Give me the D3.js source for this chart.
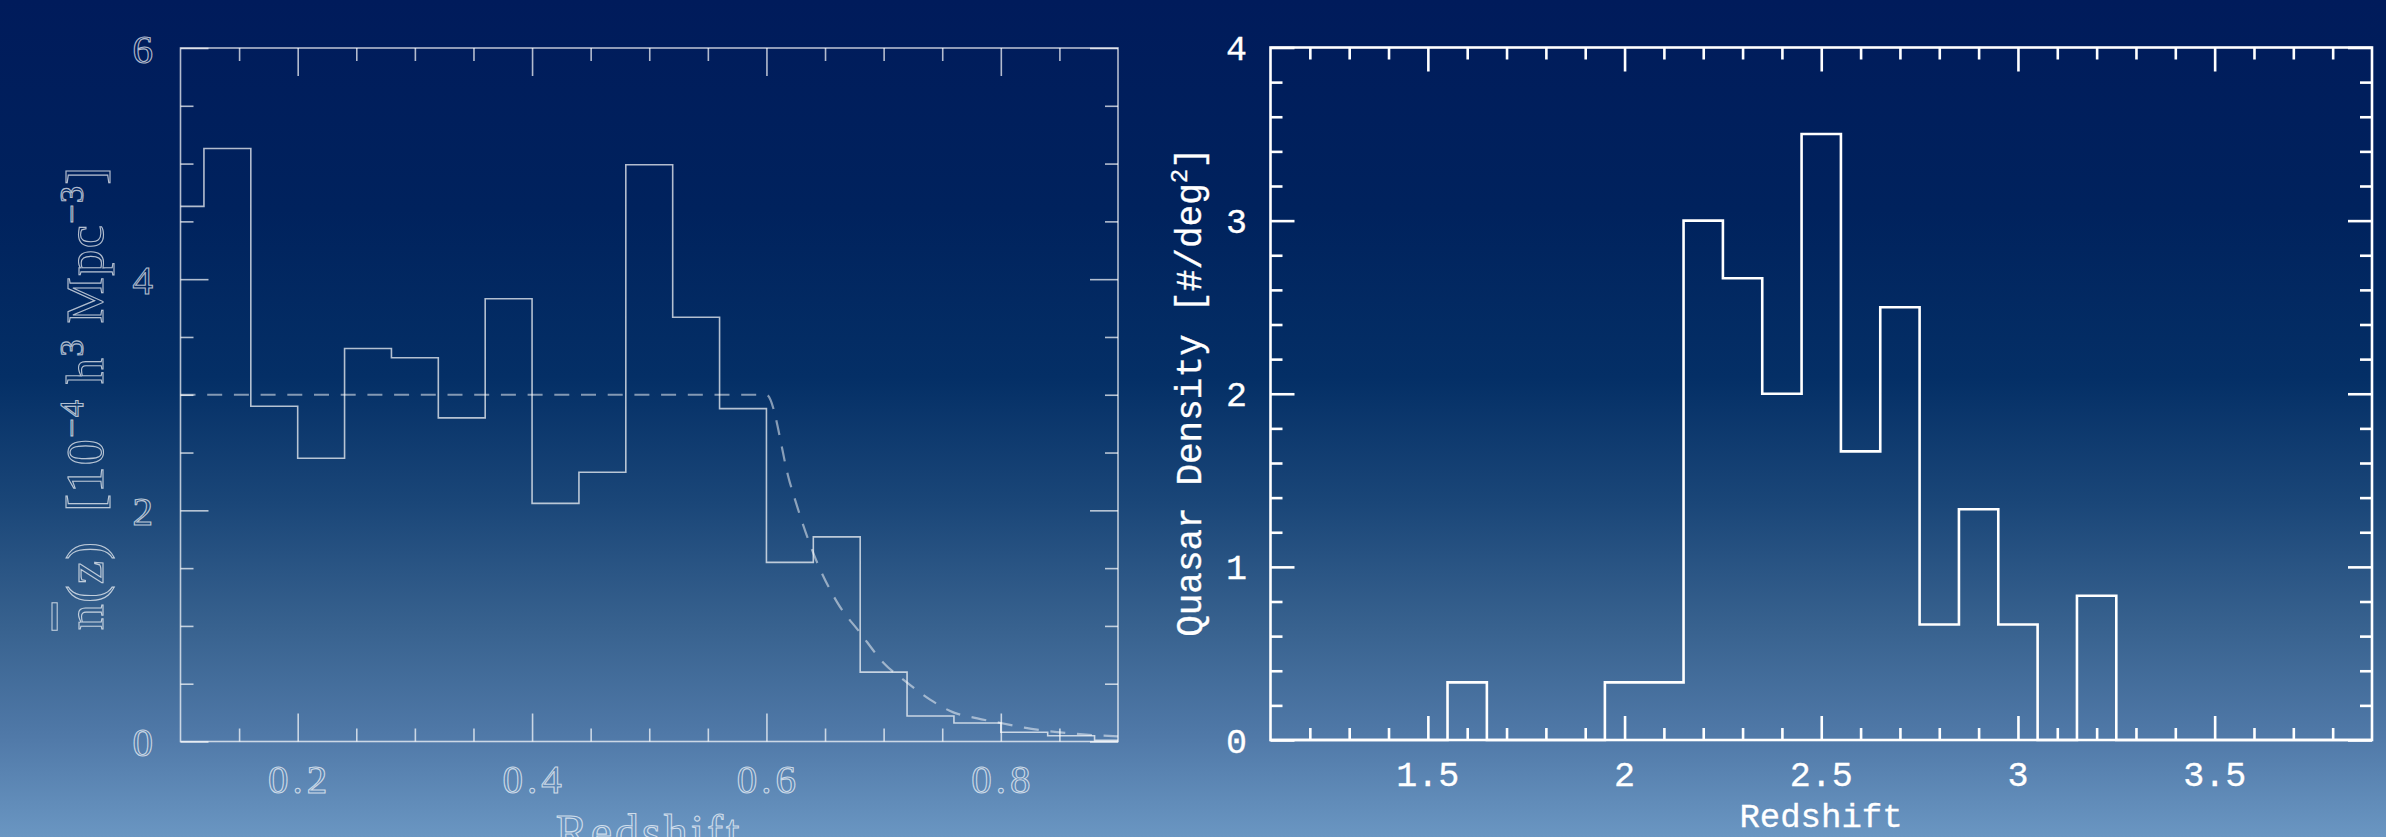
<!DOCTYPE html>
<html><head><meta charset="utf-8">
<script src="https://cdn.jsdelivr.net/npm/d3@7"></script>
<style>html,body{margin:0;padding:0;overflow:hidden;background:#0a2a60}</style>
</head><body><svg id="c" width="2386" height="837"></svg>
<script>
// ---------- data ----------
// Left panel: mean galaxy density n(z) histogram
const lzEdges   = [0.10,0.12,0.16,0.20,0.24,0.28,0.32,0.36,0.40,0.44,0.48,0.52,0.56,0.60,0.64,0.68,0.72,0.76,0.80,0.84,0.88,0.90];
const lzDensity = [4.63,5.13,2.90,2.45,3.40,3.32,2.80,3.83,2.06,2.33,4.99,3.67,2.88,1.55,1.77,0.60,0.22,0.16,0.08,0.05,0.01];
// Left panel: dashed model curve
const lzModelZ  = [0.10,0.60,0.62,0.64,0.66,0.68,0.70,0.72,0.74,0.76,0.78,0.80,0.82,0.84,0.86,0.88,0.90];
const lzModelN  = [3.00,3.00,2.24,1.63,1.21,0.94,0.68,0.51,0.36,0.25,0.20,0.16,0.12,0.09,0.07,0.055,0.045];
const lXTickVals = [0.2,0.4,0.6,0.8];
const lXTickLabels = ["0.2","0.4","0.6","0.8"];
const lYTickVals = [0,2,4,6];
const lYTickLabels = ["0","2","4","6"];

// Right panel: quasar density histogram (step outline points)
const qzX = [1.10,1.55,1.65,1.75,1.85,1.95,2.05,2.15,2.25,2.35,2.45,2.55,2.65,2.75,2.85,2.95,3.05,3.15,3.25,3.90];
const qzD = [0,0.333,0,0,0,0.333,0.333,3.0,2.667,2.0,3.5,1.667,2.5,0.667,1.333,0.667,0,0.833,0,0];
const rXTickVals = [1.5,2,2.5,3,3.5];
const rXTickLabels = ["1.5","2","2.5","3","3.5"];
const rYTickVals = [0,1,2,3,4];
const rYTickLabels = ["0","1","2","3","4"];

// ---------- drawing ----------
const svg = d3.select("#c");
const W = 2386, H = 837;
const defs = svg.append("defs");
const grad = defs.append("linearGradient").attr("id","bg").attr("x1",0).attr("y1",0).attr("x2",0).attr("y2",1);
[[0,"#001b5b"],[0.25,"#00225d"],[0.45,"#042f66"],[0.6,"#1a4678"],[0.75,"#38628f"],[0.88,"#5079a8"],[1,"#6a96c2"]]
  .forEach(([o,c])=>grad.append("stop").attr("offset",o).attr("stop-color",c));
svg.append("rect").attr("width",W).attr("height",H).attr("fill","url(#bg)");

function ticksOnFrame(g, x, y, xMinor, xMajor, yMinor, yMajor, sMinor, sMajor, stroke, sw, op){
  const t = [
    [d3.axisBottom(x), xMinor, sMinor, y.range()[0]],
    [d3.axisBottom(x), xMajor, sMajor, y.range()[0]],
    [d3.axisTop(x),    xMinor, sMinor, y.range()[1]],
    [d3.axisTop(x),    xMajor, sMajor, y.range()[1]]
  ];
  t.forEach(([ax, vals, s, ty])=>{
    const gg = g.append("g").attr("transform",`translate(0,${ty})`)
      .call(ax.tickValues(vals).tickSize(-s).tickFormat(""));
    gg.select(".domain").remove();
    gg.selectAll("line").attr("stroke",stroke).attr("stroke-width",sw).attr("opacity",op);
  });
  const t2 = [
    [d3.axisLeft(y),  yMinor, sMinor, x.range()[0]],
    [d3.axisLeft(y),  yMajor, sMajor, x.range()[0]],
    [d3.axisRight(y), yMinor, sMinor, x.range()[1]],
    [d3.axisRight(y), yMajor, sMajor, x.range()[1]]
  ];
  t2.forEach(([ax, vals, s, tx])=>{
    const gg = g.append("g").attr("transform",`translate(${tx},0)`)
      .call(ax.tickValues(vals).tickSize(-s).tickFormat(""));
    gg.select(".domain").remove();
    gg.selectAll("line").attr("stroke",stroke).attr("stroke-width",sw).attr("opacity",op);
  });
  g.append("rect").attr("x",x.range()[0]).attr("y",y.range()[1])
    .attr("width",x.range()[1]-x.range()[0]).attr("height",y.range()[0]-y.range()[1])
    .attr("fill","none").attr("stroke",stroke).attr("stroke-width",sw).attr("opacity",op);
}

// ----- Left panel -----
{
  const g = svg.append("g");
  const x = d3.scaleLinear().domain([0.1,0.9]).range([180.5,1118]);
  const y = d3.scaleLinear().domain([0,6]).range([741.5,48]);
  const lineCol = "#ffffff";
  // model (dashed)
  const mline = d3.line().x((d,i)=>x(lzModelZ[i])).y((d,i)=>y(lzModelN[i])).curve(d3.curveMonotoneX);
  g.append("path").attr("d", mline(lzModelZ)).attr("fill","none")
    .attr("stroke",lineCol).attr("stroke-width",2.2).attr("opacity",0.5).attr("stroke-dasharray","15,11.7");
  // histogram
  const pts = lzEdges.map((e,i)=>[e, i<lzDensity.length ? lzDensity[i] : lzDensity[lzDensity.length-1]]);
  const hline = d3.line().x(d=>x(d[0])).y(d=>y(d[1])).curve(d3.curveStepAfter);
  g.append("path").attr("d", hline(pts)).attr("fill","none")
    .attr("stroke",lineCol).attr("stroke-width",1.6).attr("opacity",0.7);
  // axes
  const xMinor = d3.range(0.15,0.9,0.05).filter(v=>!lXTickVals.some(m=>Math.abs(m-v)<1e-6));
  const yMinor = d3.range(0.5,6,0.5).filter(v=>!lYTickVals.some(m=>Math.abs(m-v)<1e-6));
  ticksOnFrame(g, x, y, xMinor, lXTickVals, yMinor, lYTickVals, 13, 28, lineCol, 1.6, 0.7);
  const txt = sel=>sel.attr("font-family","Liberation Serif").attr("fill","none")
    .attr("stroke","#ffffff").attr("stroke-width",1.1).attr("stroke-opacity",0.7);
  g.selectAll(".xl").data(lXTickVals).enter().append("text")
    .attr("x",d=>x(d)+2).attr("y",793).attr("text-anchor","middle").attr("font-size",41)
    .attr("letter-spacing",4)
    .text((d,i)=>lXTickLabels[i]).call(txt);
  g.selectAll(".yl").data(lYTickVals).enter().append("text")
    .attr("x",153).attr("y",d=>y(d)).attr("dy","0.36em").attr("text-anchor","end").attr("font-size",41)
    .text((d,i)=>lYTickLabels[i]).call(txt);
  g.append("text").attr("x",649).attr("y",848).attr("text-anchor","middle").attr("font-size",48)
    .attr("letter-spacing",3).text("Redshift").call(txt);
  const yl = g.append("text").attr("transform","translate(103,398) rotate(-90)")
    .attr("text-anchor","middle").attr("font-size",52).attr("letter-spacing",1.5)
    .attr("xml:space","preserve").call(txt);
  yl.append("tspan").attr("text-decoration","overline").text("n");
  yl.append("tspan").text("(z)  [10");
  yl.append("tspan").attr("font-size",34).attr("dy",-20).text("−4");
  yl.append("tspan").attr("dy",20).text(" h");
  yl.append("tspan").attr("font-size",34).attr("dy",-20).text("3");
  yl.append("tspan").attr("dy",20).text(" Mpc");
  yl.append("tspan").attr("font-size",34).attr("dy",-20).text("−3");
  yl.append("tspan").attr("dy",20).text("]");
}

// ----- Right panel -----
{
  const g = svg.append("g");
  const x = d3.scaleLinear().domain([1.1,3.9]).range([1270.5,2372]);
  const y = d3.scaleLinear().domain([0,4]).range([740,47.5]);
  const col = "#ffffff";
  const hline = d3.line().x((d,i)=>x(qzX[i])).y((d,i)=>y(qzD[i])).curve(d3.curveStepAfter);
  g.append("path").attr("d", hline(qzX)).attr("fill","none").attr("stroke",col).attr("stroke-width",2.6);
  const xMinor = d3.range(1.2,3.9,0.1).filter(v=>!rXTickVals.some(m=>Math.abs(m-v)<1e-6));
  const yMinor = d3.range(0.2,4,0.2).filter(v=>!rYTickVals.some(m=>Math.abs(m-v)<1e-6));
  ticksOnFrame(g, x, y, xMinor, rXTickVals, yMinor, rYTickVals, 12, 24, col, 2.6, 1);
  const txt = sel=>sel.attr("font-family","Liberation Mono").attr("fill","#ffffff")
    .attr("stroke","#ffffff").attr("stroke-width",0.3);
  g.selectAll(".xl").data(rXTickVals).enter().append("text")
    .attr("x",d=>x(d)).attr("y",786).attr("text-anchor","middle").attr("font-size",35)
    .text((d,i)=>rXTickLabels[i]).call(txt);
  g.selectAll(".yl").data(rYTickVals).enter().append("text")
    .attr("x",1247).attr("y",d=>y(d)).attr("dy","0.36em").attr("text-anchor","end").attr("font-size",35)
    .text((d,i)=>rYTickLabels[i]).call(txt);
  g.append("text").attr("x",1821).attr("y",827).attr("text-anchor","middle").attr("font-size",34)
    .text("Redshift").call(txt);
  const yl = g.append("text").attr("transform","translate(1201,392) rotate(-90)")
    .attr("text-anchor","middle").attr("font-size",36).call(txt);
  yl.append("tspan").text("Quasar Density [#/deg");
  yl.append("tspan").attr("font-size",24).attr("dy",-14).text("2");
  yl.append("tspan").attr("dy",14).text("]");
}
</script></body></html>
